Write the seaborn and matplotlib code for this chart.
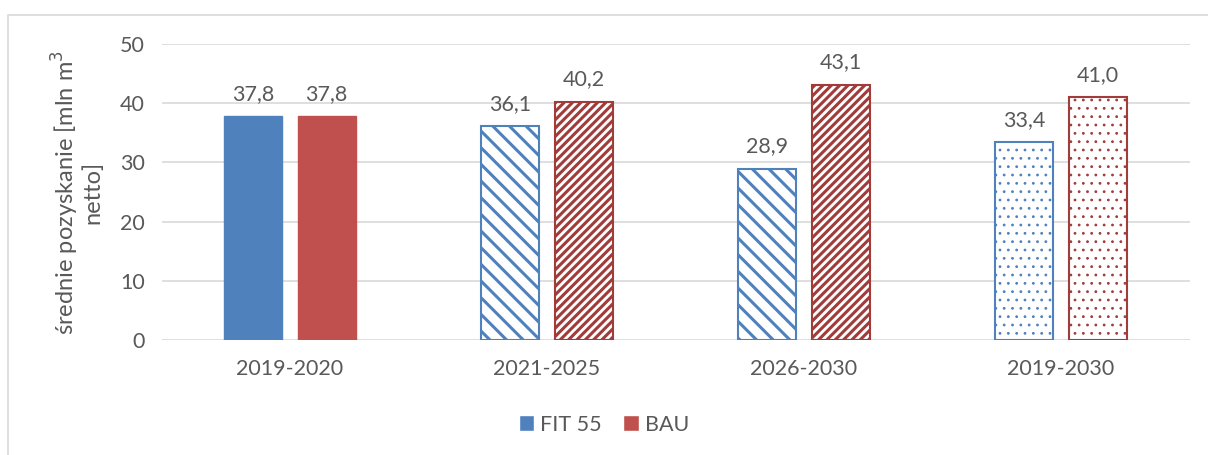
import matplotlib
matplotlib.use("Agg")
import matplotlib.pyplot as plt
from matplotlib.patches import Rectangle
import pandas as pd
import seaborn as sns

# values
periods = ["2019-2020", "2021-2025", "2026-2030", "2019-2030"]
fit55 = [37.8, 36.1, 28.9, 33.4]
bau = [37.8, 40.2, 43.1, 41.0]
series_names = ["FIT 55", "BAU"]
y_ticks = [0, 10, 20, 30, 40, 50]

blue = "#4F81BD"
red = "#C0504D"
red_dark = "#A03C3A"
grey_txt = "#595959"
fs = 15.5

sns.set_style("white")
plt.rcParams["font.family"] = ["Lato", "DejaVu Sans"]
plt.rcParams["hatch.linewidth"] = 2.2

df = pd.DataFrame({
    "okres": periods * 2,
    "seria": [series_names[0]] * 4 + [series_names[1]] * 4,
    "wartosc": fit55 + bau,
})

fig = plt.figure(figsize=(12.08, 4.55), dpi=100)
ax = fig.add_axes([0.1337, 0.2527, 0.851, 0.6506])

sns.barplot(data=df, x="okres", y="wartosc", hue="seria", order=periods,
            hue_order=series_names, palette=[blue, red], width=0.57, gap=0.207,
            errorbar=None, legend=False, ax=ax, zorder=3)

# bar styling: solid, diagonal hatch, diagonal hatch, dots
styles = ["solid", "stripes", "stripes", "dots"]
for ci, cont in enumerate(ax.containers):
    base = blue if ci == 0 else red
    edge = blue if ci == 0 else red_dark
    for i, bar in enumerate(cont):
        st = styles[i]
        if st == "solid":
            bar.set_facecolor(base)
            bar.set_edgecolor(base)
            continue
        bar.set_facecolor("white")
        bar.set_edgecolor(edge)
        bar.set_linewidth(1.5)
        if st == "stripes":
            bar.set_hatch("\\\\" if ci == 0 else "////")
        else:
            bar.set_hatch("..")
            if hasattr(bar, "set_hatch_linewidth"):
                bar.set_hatch_linewidth(0.8)
    labels = [f"{v:.1f}".replace(".", ",") for v in (fit55 if ci == 0 else bau)]
    ax.bar_label(cont, labels=labels, padding=9, fontsize=fs, color=grey_txt)

ax.set_ylim(0, 50)
ax.set_xlim(-0.5, 3.5)
ax.set_yticks(y_ticks)
ax.yaxis.grid(True, color="#D9D9D9", linewidth=1.2, zorder=0)
ax.set_axisbelow(True)
for s in ax.spines.values():
    s.set_visible(False)
ax.tick_params(axis="both", length=0, labelsize=fs, colors=grey_txt)
ax.tick_params(axis="y", pad=12)
ax.tick_params(axis="x", pad=14)
ax.set_xlabel("")
ax.set_ylabel("średnie pozyskanie [mln m$^3$\nnetto]", fontsize=17,
              color=grey_txt, labelpad=12, linespacing=1.05,
              multialignment="center")

# legend at bottom
handles = [Rectangle((0, 0), 1, 1, facecolor=blue), Rectangle((0, 0), 1, 1, facecolor=red)]
fig.legend(handles, series_names, loc="center", bbox_to_anchor=(0.5, 0.067),
           ncol=2, frameon=False, fontsize=fs, handlelength=0.7, handleheight=0.7,
           handletextpad=0.3, columnspacing=1.0, labelcolor=grey_txt)

# chart-area border
fig.add_artist(Rectangle((8 / 1208, -0.1), 1.2, 1.1 - 15 / 455, transform=fig.transFigure,
                         fill=False, edgecolor="#D9D9D9", linewidth=1.2))

fig.savefig("out.png", dpi=100, facecolor="white")
